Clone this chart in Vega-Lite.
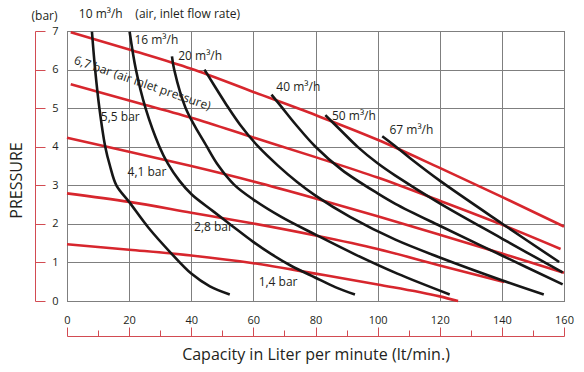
{
  "$schema": "https://vega.github.io/schema/vega-lite/v6.json",
  "width": 497,
  "height": 270,
  "autosize": {"type": "none"},
  "padding": {"left": 67, "top": 31, "right": 20, "bottom": 71},
  "config": {
    "font": "Open Sans",
    "view": {"stroke": "#555555", "strokeWidth": 1},
    "axis": {"labelFont": "Open Sans", "titleFont": "Open Sans"}
  },
  "datasets": {
    "pressure": [
      {"s": "6.7", "x": 1.2, "y": 6.97}, {"s": "6.7", "x": 20, "y": 6.52}, {"s": "6.7", "x": 40, "y": 6.02}, {"s": "6.7", "x": 60, "y": 5.42}, {"s": "6.7", "x": 80, "y": 4.82}, {"s": "6.7", "x": 100, "y": 4.18}, {"s": "6.7", "x": 120, "y": 3.45}, {"s": "6.7", "x": 140, "y": 2.7}, {"s": "6.7", "x": 160, "y": 1.93},
      {"s": "5.5", "x": 1.2, "y": 5.62}, {"s": "5.5", "x": 20, "y": 5.2}, {"s": "5.5", "x": 40, "y": 4.75}, {"s": "5.5", "x": 60, "y": 4.24}, {"s": "5.5", "x": 80, "y": 3.73}, {"s": "5.5", "x": 100, "y": 3.2}, {"s": "5.5", "x": 120, "y": 2.6}, {"s": "5.5", "x": 140, "y": 1.98}, {"s": "5.5", "x": 158.9, "y": 1.35},
      {"s": "4.1", "x": 0, "y": 4.23}, {"s": "4.1", "x": 20, "y": 3.87}, {"s": "4.1", "x": 40, "y": 3.5}, {"s": "4.1", "x": 60, "y": 3.1}, {"s": "4.1", "x": 80, "y": 2.66}, {"s": "4.1", "x": 100, "y": 2.2}, {"s": "4.1", "x": 120, "y": 1.72}, {"s": "4.1", "x": 140, "y": 1.23}, {"s": "4.1", "x": 160, "y": 0.73},
      {"s": "2.8", "x": 0, "y": 2.79}, {"s": "2.8", "x": 20, "y": 2.57}, {"s": "2.8", "x": 40, "y": 2.29}, {"s": "2.8", "x": 60, "y": 2.01}, {"s": "2.8", "x": 80, "y": 1.7}, {"s": "2.8", "x": 100, "y": 1.35}, {"s": "2.8", "x": 120, "y": 0.92}, {"s": "2.8", "x": 140.8, "y": 0.49},
      {"s": "1.4", "x": 0, "y": 1.47}, {"s": "1.4", "x": 20, "y": 1.33}, {"s": "1.4", "x": 40, "y": 1.18}, {"s": "1.4", "x": 60, "y": 0.98}, {"s": "1.4", "x": 80, "y": 0.71}, {"s": "1.4", "x": 100, "y": 0.43}, {"s": "1.4", "x": 120, "y": 0.12}, {"s": "1.4", "x": 125.9, "y": 0}
    ],
    "flow": [
      {"c": "10", "x": 8.03, "y": 6.98}, {"c": "10", "x": 9.06, "y": 6.0}, {"c": "10", "x": 10.43, "y": 5.0}, {"c": "10", "x": 12.31, "y": 4.0}, {"c": "10", "x": 13.85, "y": 3.5}, {"c": "10", "x": 15.9, "y": 3.0}, {"c": "10", "x": 20, "y": 2.57}, {"c": "10", "x": 26.24, "y": 1.9}, {"c": "10", "x": 33.4, "y": 1.25}, {"c": "10", "x": 40, "y": 0.71}, {"c": "10", "x": 46, "y": 0.38}, {"c": "10", "x": 52.4, "y": 0.17},
      {"c": "16", "x": 20.16, "y": 6.98}, {"c": "16", "x": 22.18, "y": 6.0}, {"c": "16", "x": 25.28, "y": 5.0}, {"c": "16", "x": 29.76, "y": 4.0}, {"c": "16", "x": 32.48, "y": 3.56}, {"c": "16", "x": 36.16, "y": 3.12}, {"c": "16", "x": 40.16, "y": 2.76}, {"c": "16", "x": 46.99, "y": 2.33}, {"c": "16", "x": 53.29, "y": 1.94}, {"c": "16", "x": 59.84, "y": 1.54}, {"c": "16", "x": 65.67, "y": 1.22}, {"c": "16", "x": 71.97, "y": 0.92}, {"c": "16", "x": 79.84, "y": 0.61}, {"c": "16", "x": 86.35, "y": 0.36}, {"c": "16", "x": 92.7, "y": 0.17},
      {"c": "20", "x": 33.79, "y": 6.34}, {"c": "20", "x": 34.5, "y": 6.0}, {"c": "20", "x": 38.21, "y": 5.0}, {"c": "20", "x": 45.04, "y": 4.0}, {"c": "20", "x": 48.72, "y": 3.51}, {"c": "20", "x": 53.86, "y": 3.01}, {"c": "20", "x": 60, "y": 2.63}, {"c": "20", "x": 68.98, "y": 2.18}, {"c": "20", "x": 80, "y": 1.72}, {"c": "20", "x": 92.7, "y": 1.21}, {"c": "20", "x": 106.35, "y": 0.71}, {"c": "20", "x": 123.2, "y": 0.17},
      {"c": "30", "x": 44.26, "y": 6.0}, {"c": "30", "x": 47.46, "y": 5.58}, {"c": "30", "x": 51.3, "y": 5.09}, {"c": "30", "x": 55.72, "y": 4.57}, {"c": "30", "x": 61.61, "y": 4.0}, {"c": "30", "x": 67.91, "y": 3.51}, {"c": "30", "x": 73.98, "y": 3.09}, {"c": "30", "x": 80, "y": 2.73}, {"c": "30", "x": 91.11, "y": 2.18}, {"c": "30", "x": 105.71, "y": 1.59}, {"c": "30", "x": 120, "y": 1.13}, {"c": "30", "x": 140, "y": 0.54}, {"c": "30", "x": 153.49, "y": 0.17},
      {"c": "40", "x": 65.83, "y": 5.35}, {"c": "40", "x": 68.98, "y": 5.04}, {"c": "40", "x": 73.7, "y": 4.57}, {"c": "40", "x": 80, "y": 4.0}, {"c": "40", "x": 88.48, "y": 3.4}, {"c": "40", "x": 100, "y": 2.79}, {"c": "40", "x": 105.71, "y": 2.52}, {"c": "40", "x": 120, "y": 1.95}, {"c": "40", "x": 140, "y": 1.18}, {"c": "40", "x": 159.57, "y": 0.43},
      {"c": "50", "x": 83.17, "y": 4.82}, {"c": "50", "x": 87.94, "y": 4.44}, {"c": "50", "x": 93.65, "y": 3.99}, {"c": "50", "x": 100, "y": 3.57}, {"c": "50", "x": 105.71, "y": 3.25}, {"c": "50", "x": 120, "y": 2.53}, {"c": "50", "x": 140, "y": 1.62}, {"c": "50", "x": 159.57, "y": 0.74},
      {"c": "67", "x": 101.49, "y": 4.27}, {"c": "67", "x": 105.4, "y": 4.03}, {"c": "67", "x": 110.48, "y": 3.7}, {"c": "67", "x": 120, "y": 3.12}, {"c": "67", "x": 140, "y": 2.01}, {"c": "67", "x": 158.45, "y": 1.01}
    ],
    "labels": [
      {"t": "10 m³/h", "x": 3.8, "y": 7.43},
      {"t": "(air, inlet flow rate)", "x": 22.0, "y": 7.43},
      {"t": "16 m³/h", "x": 21.7, "y": 6.77},
      {"t": "20 m³/h", "x": 35.8, "y": 6.36},
      {"t": "40 m³/h", "x": 67.4, "y": 5.55},
      {"t": "50 m³/h", "x": 85.3, "y": 4.79},
      {"t": "67 m³/h", "x": 103.8, "y": 4.44},
      {"t": "5,5 bar", "x": 10.9, "y": 4.78},
      {"t": "4,1 bar", "x": 19.5, "y": 3.34},
      {"t": "2,8 bar", "x": 40.9, "y": 1.92},
      {"t": "1,4 bar", "x": 61.7, "y": 0.48}
    ],
    "rotated": [
      {"t": "6,7 bar (air inlet pressure)", "x": 24.3, "y": 5.65}
    ]
  },
  "layer": [
    {
      "data": {"name": "pressure"},
      "mark": {"type": "line", "color": "#d7262d", "strokeWidth": 2.6, "interpolate": "monotone"},
      "encoding": {
        "x": {
          "field": "x", "type": "quantitative",
          "scale": {"domain": [0, 160], "nice": false, "zero": false},
          "axis": {
            "orient": "bottom", "values": [0, 20, 40, 60, 80, 100, 120, 140, 160],
            "grid": true, "gridColor": "#7f7f7f", "gridWidth": 1,
            "domain": false, "ticks": false, "tickSize": 0,
            "labelPadding": 13, "labelFontSize": 11, "labelColor": "#231f20", "labelFlush": false,
            "title": null
          }
        },
        "y": {
          "field": "y", "type": "quantitative",
          "scale": {"domain": [0, 7], "nice": false, "zero": false},
          "axis": {
            "orient": "left", "values": [0, 1, 2, 3, 4, 5, 6, 7],
            "grid": true, "gridColor": "#7f7f7f", "gridWidth": 1,
            "domain": false, "ticks": false, "tickSize": 0,
            "labelPadding": 9, "labelFontSize": 11, "labelColor": "#231f20", "labelFlush": false,
            "title": "(bar)", "titleAngle": 0, "titleX": -23, "titleY": -16,
            "titleAlign": "center", "titleBaseline": "middle",
            "titleFontSize": 12, "titleFontWeight": "normal", "titleColor": "#231f20"
          }
        },
        "detail": {"field": "s", "type": "nominal"}
      }
    },
    {
      "data": {"name": "flow"},
      "mark": {"type": "line", "color": "#161616", "strokeWidth": 2.6, "interpolate": "catmull-rom"},
      "encoding": {
        "x": {
          "field": "x", "type": "quantitative",
          "scale": {"domain": [0, 160], "nice": false, "zero": false},
          "axis": {
            "orient": "bottom", "offset": 35, "values": [0, 20, 40, 60, 80, 100, 120, 140, 160],
            "grid": false, "domainColor": "#d24b52", "tickColor": "#d24b52", "tickSize": -9,
            "labels": false,
            "title": "Capacity in Liter per minute (lt/min.)", "titleFontSize": 16,
            "titleFontWeight": "normal", "titleColor": "#231f20", "titlePadding": 10
          }
        },
        "y": {
          "field": "y", "type": "quantitative",
          "scale": {"domain": [0, 7], "nice": false, "zero": false},
          "axis": {
            "orient": "left", "offset": 32, "values": [0, 1, 2, 3, 4, 5, 6, 7],
            "grid": false, "domainColor": "#d24b52", "tickColor": "#d24b52", "tickSize": -10,
            "labels": false,
            "title": "PRESSURE", "titleFontSize": 16, "titleFontWeight": "normal",
            "titleColor": "#231f20", "titlePadding": 10, "titleY": 149
          }
        },
        "detail": {"field": "c", "type": "nominal"}
      }
    },
    {
      "data": {"name": "labels"},
      "mark": {"type": "text", "align": "left", "baseline": "middle", "fontSize": 12, "color": "#231f20"},
      "encoding": {
        "x": {
          "field": "x", "type": "quantitative",
          "scale": {"domain": [0, 160], "nice": false, "zero": false},
          "axis": {
            "orient": "bottom", "offset": 35, "values": [10, 30, 50, 70, 90, 110, 130, 150],
            "grid": false, "domain": false, "tickColor": "#d24b52", "tickSize": -6,
            "labels": false, "title": null
          }
        },
        "y": {
          "field": "y", "type": "quantitative",
          "scale": {"domain": [0, 7], "nice": false, "zero": false},
          "axis": null
        },
        "text": {"field": "t", "type": "nominal"}
      }
    },
    {
      "data": {"name": "rotated"},
      "mark": {"type": "text", "align": "center", "baseline": "middle", "fontSize": 12, "angle": 19, "color": "#231f20"},
      "encoding": {
        "x": {"field": "x", "type": "quantitative", "scale": {"domain": [0, 160], "nice": false, "zero": false}, "axis": null},
        "y": {"field": "y", "type": "quantitative", "scale": {"domain": [0, 7], "nice": false, "zero": false}, "axis": null},
        "text": {"field": "t", "type": "nominal"}
      }
    }
  ],
  "resolve": {"axis": {"x": "independent", "y": "independent"}}
}
